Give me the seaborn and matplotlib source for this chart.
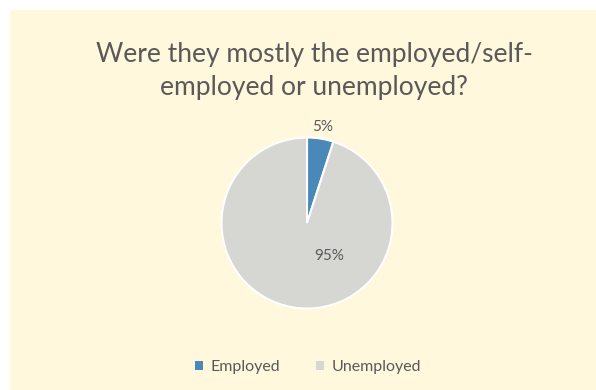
import matplotlib
matplotlib.use("Agg")
import matplotlib.pyplot as plt
from matplotlib.patches import Rectangle, Patch
import numpy as np
import seaborn as sns

categories = ["Employed", "Unemployed"]
shares = [5, 95]
label_text = ["5%", "95%"]

sns.set_theme(style="white")
plt.rcParams["font.family"] = ["Lato", "DejaVu Sans"]

colors = ["#4A88B8", "#D6D6D2"]
text_gray = "#595959"
bg = "#FFF8DC"

W, H = 596, 390
fig = plt.figure(figsize=(W / 100, H / 100), dpi=100)
fig.patch.set_facecolor("white")
fig.add_artist(Rectangle((10 / W, 0), 1 - 10 / W, 1 - 10 / H,
                         transform=fig.transFigure, facecolor=bg,
                         edgecolor="none", zorder=0))

title_x = 314 / W
fig.text(title_x, 1 - 62 / H, "Were they mostly the employed/self-",
         ha="center", va="baseline", fontsize=19, color=text_gray)
fig.text(title_x, 1 - 95 / H, "employed or unemployed?",
         ha="center", va="baseline", fontsize=19, color=text_gray)

cx, cy, r = 307, 223, 85.5
ax = fig.add_axes([(cx - r) / W, (H - cy - r) / H, 2 * r / W, 2 * r / H])
ax.set_facecolor("none")
wedges, _ = ax.pie(shares, colors=colors, startangle=90, counterclock=False,
                   wedgeprops=dict(edgecolor="white", linewidth=1.5))
ax.set_xlim(-1, 1)
ax.set_ylim(-1, 1)
ax.set_aspect("equal")
ax.axis("off")

# data labels: the small slice gets an outside label, the big one sits inside
label_polar = [(None, 1.14), (-56, 0.47)]
for w, txt, (ang_deg, d) in zip(wedges, label_text, label_polar):
    if ang_deg is None:
        ang_deg = (w.theta1 + w.theta2) / 2
    ang = np.deg2rad(ang_deg)
    ax.text(d * np.cos(ang), d * np.sin(ang), txt, ha="center", va="center",
            fontsize=11, color=text_gray)

handles = [Patch(facecolor=c, edgecolor="none") for c in colors]
fig.legend(handles, categories, loc="center", bbox_to_anchor=(308 / W, 1 - 367 / H),
           ncol=2, frameon=False, fontsize=11.5, labelcolor=text_gray,
           handlelength=0.5, handleheight=0.5, handletextpad=0.5,
           columnspacing=2.2)

fig.savefig("out.png", dpi=100, facecolor=fig.get_facecolor())
